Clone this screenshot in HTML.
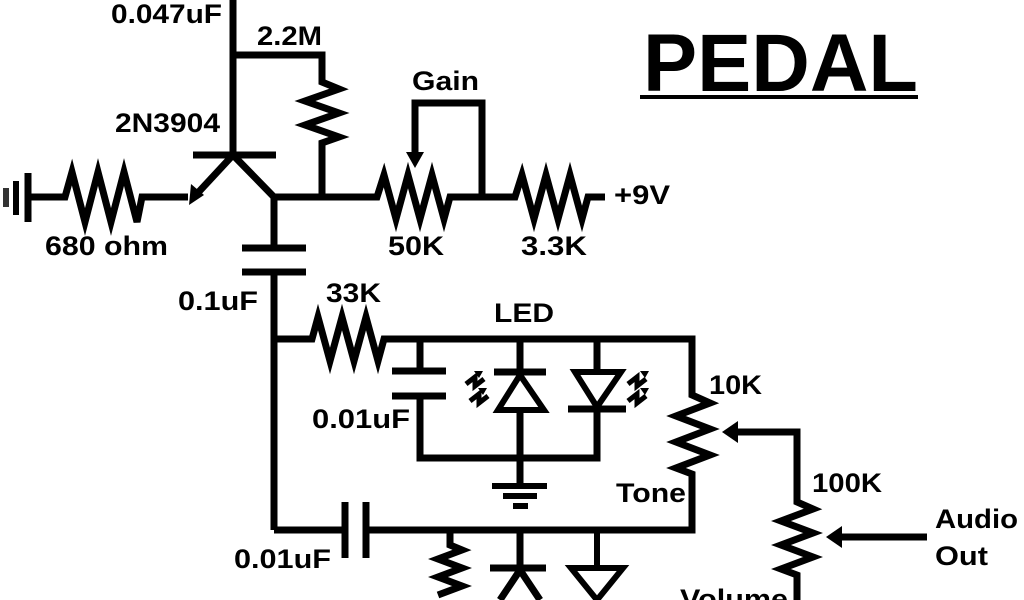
<!DOCTYPE html>
<html><head><meta charset="utf-8"><style>
html,body{margin:0;padding:0;background:#fff;width:1024px;height:600px;overflow:hidden}
svg{display:block}
text{font-family:"Liberation Sans",sans-serif;font-weight:bold;fill:#000}
</style></head><body>
<svg width="1024" height="600" viewBox="0 0 1024 600">
<g stroke="#000" stroke-width="7" fill="none" stroke-linejoin="miter">
<!-- top vertical & 2.2M -->
<path d="M233 0 V155"/>
<path d="M233 55 H322 V82 l17 7 l-34 12 l34 12 l-34 12 l34 12 l-17 6 V197"/>
<!-- transistor -->
<path d="M193 155 H276"/>
<path d="M233 155 L194 197"/>
<path d="M233 155 L274 197 V248"/>
<!-- ground left + 680 -->
<path d="M28 197 H65 l7 -25 l13 50 l13 -50 l13 50 l13 -50 l13 50 l5 -25 H188"/>
<path d="M28 173 V222" stroke-width="7"/>
<path d="M16 181 V215" stroke-width="6"/>
<path d="M6 188 V207" stroke-width="6" stroke="#333"/>
<!-- main line to +9V -->
<path d="M274 197 H377 l7 -22 l12 44 l12 -44 l12 44 l12 -44 l12 44 l6 -22 H515 l7 -22 l12 44 l12 -44 l12 44 l12 -44 l12 44 l6 -22 H605"/>
<!-- gain wiper -->
<path d="M415 155 V103 H482 V197"/>
<!-- 0.1uF cap -->
<path d="M242 248 H306 M242 272 H306"/>
<path d="M274 272 V530"/>
<!-- 33K line -->
<path d="M274 339 H312 l6 -22 l12 44 l12 -44 l12 44 l12 -44 l12 44 l6 -22 H692 V395 l18 8 l-34 13 l34 13 l-34 13 l34 13 l-34 13 l16 6 V530 H366"/>
<path d="M345 502 V558 M366 502 V558"/>
<path d="M274 530 H345"/>
<!-- LED block cap -->
<path d="M420 339 V370 M420 396 V458 H597 V410 M597 339 V370"/>
<path d="M392 371 H446 M392 396 H446"/>
<!-- diode1 -->
<path d="M520 339 V372 M494 372 H546"/>
<path d="M520 375 L498 410 H544 Z" stroke-width="6"/>
<path d="M520 410 V485"/>
<path d="M492 486 H547 M503 496 H537" stroke-width="6"/>
<path d="M513 506 H528" stroke-width="6"/>
<!-- diode2 -->
<path d="M575 372 H621 L597 407 Z" stroke-width="6"/>
<path d="M568 409 H626"/>
<!-- squiggles -->
<path d="M466 384 l9 -7 l0 9 l9 -7 M470 401 l9 -7 l0 9 l9 -7" stroke-width="5"/>
<path d="M628 384 l9 -7 l0 9 l9 -7 M628 401 l9 -7 l0 9 l9 -7" stroke-width="5"/>
<!-- tone wiper -->
<path d="M732 432 H797 V502 l16 7 l-32 12 l32 12 l-32 12 l32 12 l-32 12 l16 6 V600"/>
<!-- audio out -->
<path d="M836 537 H927"/>
<!-- bottom row -->
<path d="M450 530 V545 l12 5 l-24 9 l24 9 l-24 9 l24 9 l-24 9"/>
<path d="M520 530 V568 M490 568 H546 M520 570 L500 600 M520 570 L540 600"/>
<path d="M597 530 V565 M571 568 H623 L597 600 Z" stroke-width="6"/>
</g>
<g fill="#000">
<path d="M189 205 L191 184 L204 195 Z"/>
<path d="M406 152 L424 152 L415 168 Z"/>
<path d="M722 432 L738 421 L738 443 Z"/>
<path d="M826 537 L842 526 L842 548 Z"/>
<path d="M474 371 l9 0 l-4 7 Z M478 388 l9 0 l-4 7 Z"/>
<path d="M640 371 l9 0 l-4 7 Z M640 388 l9 0 l-4 7 Z"/>
</g>
<g font-size="27" lengthAdjust="spacingAndGlyphs">
<text x="111" y="23" textLength="111" lengthAdjust="spacingAndGlyphs">0.047uF</text>
<text x="257" y="45" textLength="65" lengthAdjust="spacingAndGlyphs">2.2M</text>
<text x="115" y="132" textLength="105" lengthAdjust="spacingAndGlyphs">2N3904</text>
<text x="45" y="255" textLength="123" lengthAdjust="spacingAndGlyphs">680 ohm</text>
<text x="412" y="90" textLength="67" lengthAdjust="spacingAndGlyphs">Gain</text>
<text x="388" y="255" textLength="56" lengthAdjust="spacingAndGlyphs">50K</text>
<text x="521" y="255" textLength="66" lengthAdjust="spacingAndGlyphs">3.3K</text>
<text x="614" y="204" textLength="56" lengthAdjust="spacingAndGlyphs">+9V</text>
<text x="178" y="310" textLength="80" lengthAdjust="spacingAndGlyphs">0.1uF</text>
<text x="326" y="302" textLength="55" lengthAdjust="spacingAndGlyphs">33K</text>
<text x="494" y="322" textLength="60" lengthAdjust="spacingAndGlyphs">LED</text>
<text x="312" y="428" textLength="98" lengthAdjust="spacingAndGlyphs">0.01uF</text>
<text x="709" y="394" textLength="53" lengthAdjust="spacingAndGlyphs">10K</text>
<text x="616" y="502" textLength="70" lengthAdjust="spacingAndGlyphs">Tone</text>
<text x="812" y="492" textLength="70" lengthAdjust="spacingAndGlyphs">100K</text>
<text x="935" y="528" textLength="83" lengthAdjust="spacingAndGlyphs">Audio</text>
<text x="935" y="565" textLength="53" lengthAdjust="spacingAndGlyphs">Out</text>
<text x="234" y="568" textLength="97" lengthAdjust="spacingAndGlyphs">0.01uF</text>
<text x="680" y="608" textLength="108" lengthAdjust="spacingAndGlyphs">Volume</text>
</g>
<text x="643" y="91" font-size="82" textLength="275" lengthAdjust="spacingAndGlyphs">PEDAL</text>
<rect x="640" y="95" width="278" height="4" fill="#000"/>
</svg>
</body></html>
